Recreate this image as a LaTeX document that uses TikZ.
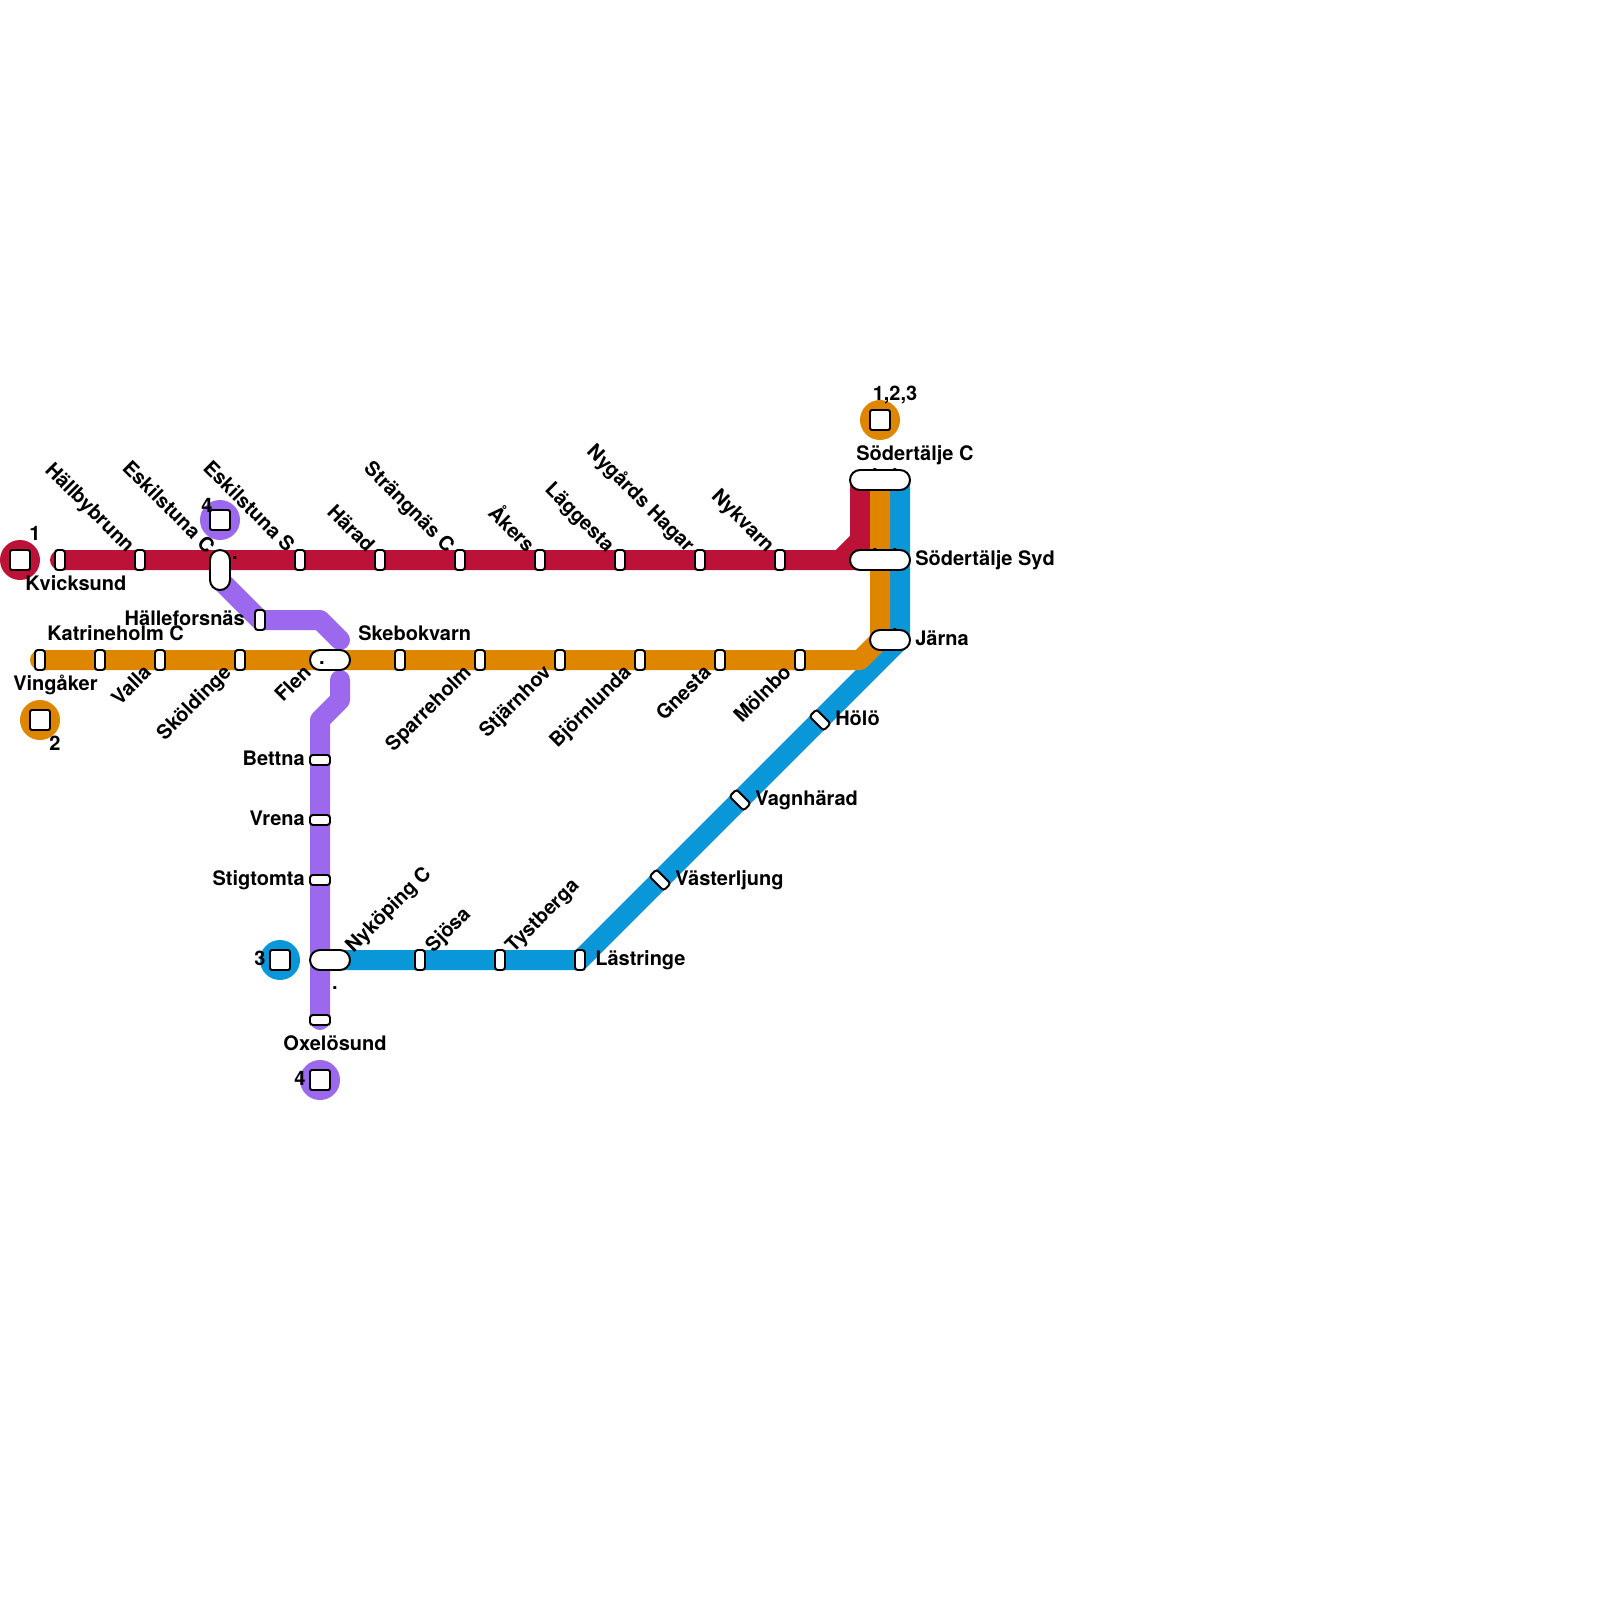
\documentclass[tikz,border=0pt]{standalone}
\usepackage{fontspec}
\usepackage{xcolor}
\setmainfont{TeX Gyre Heros}
\usetikzlibrary{backgrounds}
\definecolor{redline}{HTML}{BD1238}
\definecolor{orangeline}{HTML}{DF8600}
\definecolor{blueline}{HTML}{0A97D9}
\definecolor{purpleline}{HTML}{9B68EE}

\begin{document}
\begin{tikzpicture}[
    x=0.5cm, y=-0.5cm,
    font=\bfseries\fontsize{14.23}{17}\selectfont,
    track/.style={line width=0.5cm, line cap=round, line join=round},
    lbl/.style={inner sep=0pt, text height=10pt, text depth=3pt},
    lblup/.style={lbl, rotate=-45, anchor=east},
    lbldown/.style={lbl, rotate=45, anchor=east},
    lblrise/.style={lbl, rotate=45, anchor=west},
    stn/.style={draw, line width=1.4pt, fill=white, rounded corners=2pt, inner sep=0pt, minimum width=0.25cm, minimum height=0.5cm},
    stnh/.style={stn, minimum width=0.5cm, minimum height=0.25cm},
    pill/.style={draw, line width=1.4pt, fill=white, rounded corners=0.25cm, inner sep=0pt, minimum width=#1, minimum height=0.5cm},
    term/.style={circle, fill=#1, inner sep=0pt, minimum size=1cm},
    sq/.style={draw, line width=1.4pt, fill=white, rounded corners=1.5pt, inner sep=0pt, minimum size=0.5cm},
    speck/.style={inner sep=0pt}
]
\useasboundingbox (0,0) rectangle (80,80);

% bends
\coordinate (redbend1) at (42,28);
\coordinate (redbend2) at (43,27);
\coordinate (redcorner) at (43,28);
\coordinate (orangebend1) at (43,33);
\coordinate (orangebend2) at (44,32);
\coordinate (bluebend) at (45,32);
\coordinate (bluetop) at (45,24);
\coordinate (orangetop) at (44,24);
\coordinate (redtop) at (43,24);
\coordinate (purplestart) at (11,29);
\coordinate (purplebend1) at (16,31);
\coordinate (purpleend) at (17,32);
\coordinate (purplestart2) at (17,34);
\coordinate (purplebend2) at (17,35);
\coordinate (purplebend3) at (16,36);

% stations
\node[stn] (kvick) at (3,28) {};
\node[stn] (hallby) at (7,28) {};
\node[pill=0.5cm, minimum height=1cm] (eskc) at (11,28.5) {};
\node[stn] (esks) at (15,28) {};
\node[stn] (harad) at (19,28) {};
\node[stn] (strang) at (23,28) {};
\node[stn] (akers) at (27,28) {};
\node[stn] (lagg) at (31,28) {};
\node[stn] (nygard) at (35,28) {};
\node[stn] (nykvarn) at (39,28) {};

\node[stn] (vingaker) at (2,33) {};
\node[stn] (kath) at (5,33) {};
\node[stn] (valla) at (8,33) {};
\node[stn] (skold) at (12,33) {};
\node[pill=1cm] (flen) at (16.5,33) {};
\node[stn] (skebo) at (20,33) {};
\node[stn] (sparre) at (24,33) {};
\node[stn] (stjarn) at (28,33) {};
\node[stn] (bjorn) at (32,33) {};
\node[stn] (gnesta) at (36,33) {};
\node[stn] (molnbo) at (40,33) {};

\node[stn] (halle) at (13,31) {};
\node[stnh] (bettna) at (16,38) {};
\node[stnh] (vrena) at (16,41) {};
\node[stnh] (stig) at (16,44) {};
\node[pill=1cm] (nyk) at (16.5,48) {};
\node[stnh] (oxel) at (16,51) {};

\node[stn] (sjosa) at (21,48) {};
\node[stn] (tyst) at (25,48) {};
\node[stn] (last) at (29,48) {};
\node[stn, rotate=45] (vast) at (33,44) {};
\node[stn, rotate=45] (vagn) at (37,40) {};
\node[stn, rotate=45] (holo) at (41,36) {};

\node[pill=1.5cm] (sodc) at (44,24) {};
\node[pill=1.5cm] (sods) at (44,28) {};
\node[pill=1cm] (jarna) at (44.5,32) {};

% lines
\begin{pgfonlayer}{background}
\draw[track, blueline] (nyk.center) -- (last.center) -- (vast.center) -- (vagn.center) -- (holo.center) -- (bluebend) -- (bluetop);
\draw[track, redline] (kvick.center) -- (redcorner) -- (redtop) (redbend1) -- (redbend2);
\draw[track, orangeline] (vingaker.center) -- (orangebend1) -- (orangebend2) -- (orangetop);
\draw[track, purpleline] (purplestart) -- (halle.center) -- (purplebend1) -- (purpleend);
\draw[track, purpleline] (purplestart2) -- (purplebend2) -- (purplebend3) -- (oxel.center);

\node[speck] (speck1) at (43.75,23.5) {.};
\node[speck] (speck2) at (44.75,23.5) {.};
\node[speck] (speck3) at (43.75,27.5) {.};
\node[speck] (speck4) at (44.75,27.5) {.};
\node[speck] (speck5) at (44.75,31.5) {.};
\end{pgfonlayer}

\node[speck] (speck6) at (11.75,27.9) {.};
\node[speck] (speck7) at (16.1,33.15) {.};
\node[speck] (speck8) at (16.75,49.4) {.};

% terminals
\node[term=redline] (t1) at (1,28) {};
\node[sq] (s1) at (t1) {};
\node[term=orangeline] (t2) at (2,36) {};
\node[sq] (s2) at (t2) {};
\node[term=purpleline] (t4a) at (11,26) {};
\node[sq] (s4a) at (t4a) {};
\node[term=orangeline] (t123) at (44,21) {};
\node[sq] (s123) at (t123) {};
\node[term=blueline] (t3) at (14,48) {};
\node[sq] (s3) at (t3) {};
\node[term=purpleline] (t4b) at (16,54) {};
\node[sq] (s4b) at (t4b) {};

\node[lbl] (n1) at (1.75,26.8) {1};
\node[lbl] (n2) at (2.75,37.3) {2};
\node[lbl] (n4a) at (10.35,25.4) {4};
\node[lbl] (n123) at (44.75,19.8) {1,2,3};
\node[lbl] (n3) at (13,48.05) {3};
\node[lbl] (n4b) at (15,54.05) {4};

% labels
\node[lbl, anchor=west] (lkvick) at (1.25,29.3) {Kvicksund};
\node[lblup] (lhallby) at (6.5,27.5) {Hällbybrunn};
\node[lblup] (leskc) at (10.5,27.55) {Eskilstuna C};
\node[lblup] (lesks) at (14.5,27.5) {Eskilstuna S};
\node[lblup] (lharad) at (18.5,27.5) {Härad};
\node[lblup] (lstrang) at (22.5,27.5) {Strängnäs C};
\node[lblup] (lakers) at (26.5,27.5) {Åkers};
\node[lblup] (llagg) at (30.5,27.5) {Läggesta};
\node[lblup] (lnygard) at (34.5,27.5) {Nygårds Hagar};
\node[lblup] (lnykvarn) at (38.5,27.5) {Nykvarn};

\node[lbl, anchor=west] (lving) at (0.65,34.3) {Vingåker};
\node[lbl, anchor=west] (lkath) at (2.35,31.8) {Katrineholm C};
\node[lbldown] (lvalla) at (7.45,33.5) {Valla};
\node[lbldown] (lskold) at (11.45,33.5) {Sköldinge};
\node[lbldown] (lflen) at (15.45,33.5) {Flen};
\node[lbl, anchor=west] (lskebo) at (17.9,31.8) {Skebokvarn};
\node[lbldown] (lsparre) at (23.45,33.5) {Sparreholm};
\node[lbldown] (lstjarn) at (27.45,33.5) {Stjärnhov};
\node[lbldown] (lbjorn) at (31.45,33.5) {Björnlunda};
\node[lbldown] (lgnesta) at (35.45,33.5) {Gnesta};
\node[lbldown] (lmolnbo) at (39.45,33.5) {Mölnbo};

\node[lbl, anchor=east] (lhalle) at (12.25,31.05) {Hälleforsnäs};
\node[lbl, anchor=east] (lbettna) at (15.25,38.05) {Bettna};
\node[lbl, anchor=east] (lvrena) at (15.25,41.05) {Vrena};
\node[lbl, anchor=east] (lstig) at (15.25,44.05) {Stigtomta};
\node[lbl] (loxel) at (16.75,52.3) {Oxelösund};

\node[lblrise] (lnyk) at (17.5,47.5) {Nyköping C};
\node[lblrise] (lsjosa) at (21.5,47.5) {Sjösa};
\node[lblrise] (ltyst) at (25.5,47.5) {Tystberga};

\node[lbl, anchor=west] (llast) at (29.75,48.05) {Lästringe};
\node[lbl, anchor=west] (lvast) at (33.75,44.05) {Västerljung};
\node[lbl, anchor=west] (lvagn) at (37.75,40.05) {Vagnhärad};
\node[lbl, anchor=west] (lholo) at (41.75,36.05) {Hölö};
\node[lbl, anchor=west] (ljarna) at (45.75,32.05) {Järna};
\node[lbl, anchor=west] (lsods) at (45.75,28.05) {Södertälje Syd};
\node[lbl] (lsodc) at (45.75,22.8) {Södertälje C};

\end{tikzpicture}
\end{document}
